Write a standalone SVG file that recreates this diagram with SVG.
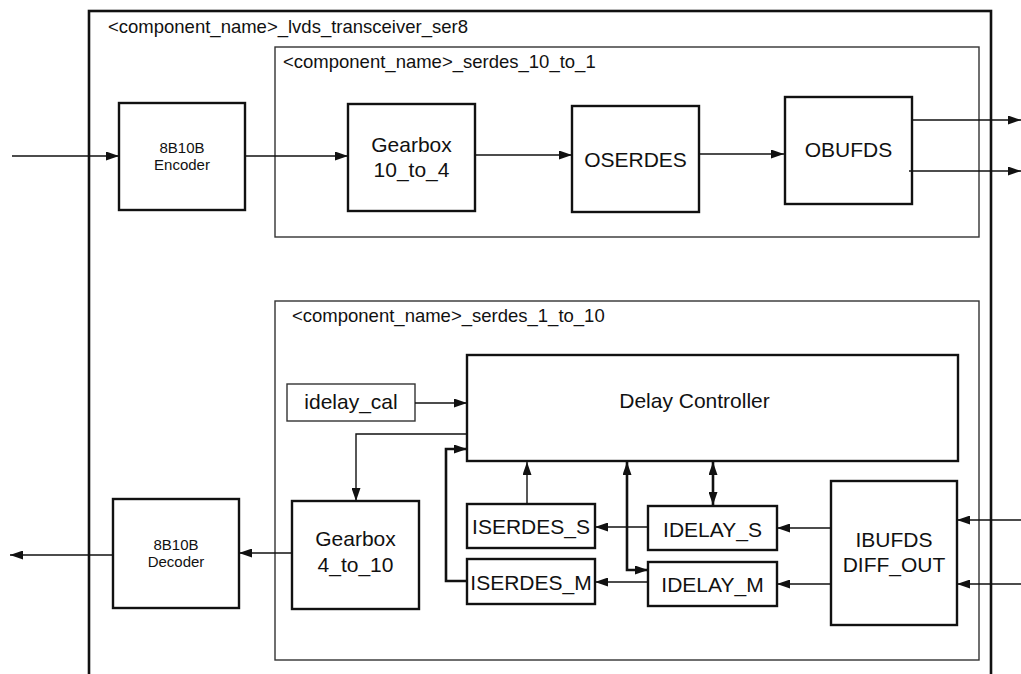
<svg xmlns="http://www.w3.org/2000/svg" width="1021" height="674" viewBox="0 0 1021 674">
<style>
text{font-family:"Liberation Sans",Arial,sans-serif;fill:#111;}
.big{font-size:21px;text-anchor:middle;}
.small{font-size:15px;text-anchor:middle;}
.title{font-size:18.5px;}
.blk{fill:#fff;stroke:#111;stroke-width:2.4;}
.thinbox{fill:none;stroke:#333;stroke-width:1.4;}
.c{fill:none;stroke:#111;stroke-width:1.4;}
.ct{fill:none;stroke:#111;stroke-width:2.6;}
</style>
<defs>
<marker id="ah" markerUnits="userSpaceOnUse" markerWidth="13" markerHeight="9" refX="13" refY="4.5" orient="auto-start-reverse" viewBox="0 0 13 9">
<path d="M0,0 L13,4.5 L0,9 z" fill="#111"/>
</marker>
</defs>
<rect width="1021" height="674" fill="#fff"/>

<g id="outer">
<rect x="89" y="11" width="902" height="700" fill="none" stroke="#111" stroke-width="2.6"/>
<text class="title" x="108" y="33">&lt;component_name&gt;_lvds_transceiver_ser8</text>
</g>
<g id="serdes_10_to_1">
<rect class="thinbox" x="275" y="47" width="704" height="190"/>
<text class="title" x="283" y="68">&lt;component_name&gt;_serdes_10_to_1</text>
</g>
<g id="serdes_1_to_10">
<rect class="thinbox" x="275" y="301" width="704" height="359"/>
<text class="title" x="292" y="322">&lt;component_name&gt;_serdes_1_to_10</text>
</g>

<g id="encoder">
<rect class="blk" x="119" y="103" width="126" height="107"/>
<text class="small" x="182" y="153">8B10B</text>
<text class="small" x="182" y="170">Encoder</text>
</g>
<g id="gearbox_10_to_4">
<rect class="blk" x="348" y="104" width="127" height="107"/>
<text class="big" x="411.5" y="152">Gearbox</text>
<text class="big" x="411.5" y="177">10_to_4</text>
</g>
<g id="oserdes">
<rect class="blk" x="572" y="106" width="127" height="106"/>
<text class="big" x="635.5" y="167">OSERDES</text>
</g>
<g id="obufds">
<rect class="blk" x="785" y="97" width="127" height="107"/>
<text class="big" x="848.5" y="157">OBUFDS</text>
</g>

<g id="idelay_cal">
<rect class="thinbox" x="287" y="384" width="128" height="37"/>
<text class="big" x="351" y="409">idelay_cal</text>
</g>
<g id="delay_controller">
<rect class="blk" x="467" y="355" width="491" height="106"/>
<text class="big" x="694.5" y="408">Delay Controller</text>
</g>
<g id="iserdes_s">
<rect class="blk" x="467" y="504" width="128" height="44"/>
<text class="big" x="531" y="534">ISERDES_S</text>
</g>
<g id="iserdes_m">
<rect class="blk" x="467" y="559" width="128" height="45"/>
<text class="big" x="531" y="590">ISERDES_M</text>
</g>
<g id="idelay_s">
<rect class="blk" x="648" y="506" width="129" height="44"/>
<text class="big" x="712.5" y="537">IDELAY_S</text>
</g>
<g id="idelay_m">
<rect class="blk" x="648" y="562" width="129" height="44"/>
<text class="big" x="712.5" y="592">IDELAY_M</text>
</g>
<g id="ibufds">
<rect class="blk" x="831" y="481" width="126" height="144"/>
<text class="big" x="894" y="547">IBUFDS</text>
<text class="big" x="894" y="572">DIFF_OUT</text>
</g>
<g id="gearbox_4_to_10">
<rect class="blk" x="292" y="501" width="127" height="108"/>
<text class="big" x="355.5" y="546">Gearbox</text>
<text class="big" x="355.5" y="572">4_to_10</text>
</g>
<g id="decoder">
<rect class="blk" x="113" y="499" width="126" height="109"/>
<text class="small" x="176" y="550">8B10B</text>
<text class="small" x="176" y="567">Decoder</text>
</g>

<g id="connectors">
<path class="c" d="M12,156 L119,156" marker-end="url(#ah)"/>
<path class="c" d="M245,156 L348,156" marker-end="url(#ah)"/>
<path class="c" d="M475,155 L572,155" marker-end="url(#ah)"/>
<path class="c" d="M699,154 L784,154" marker-end="url(#ah)"/>
<path class="c" d="M912,120 L1021,120" marker-end="url(#ah)"/>
<path class="c" d="M909,171 L1021,171" marker-end="url(#ah)"/>
<path class="c" d="M415,403 L467,403" marker-end="url(#ah)"/>
<path class="c" d="M467,434 L356,434 L356,501" marker-end="url(#ah)"/>
<path class="ct" d="M467,581 L446,581 L446,449 L467,449" marker-end="url(#ah)"/>
<path class="c" d="M527,504 L527,462" marker-end="url(#ah)"/>
<path class="ct" d="M627,462 L627,570 L648,570" marker-start="url(#ah)" marker-end="url(#ah)"/>
<path class="ct" d="M713,462 L713,505" marker-start="url(#ah)" marker-end="url(#ah)"/>
<path class="c" d="M648,527 L595,527" marker-end="url(#ah)"/>
<path class="c" d="M648,582 L595,582" marker-end="url(#ah)"/>
<path class="c" d="M831,528 L777,528" marker-end="url(#ah)"/>
<path class="c" d="M831,584 L777,584" marker-end="url(#ah)"/>
<path class="c" d="M1021,520 L957,520" marker-end="url(#ah)"/>
<path class="c" d="M1021,584 L957,584" marker-end="url(#ah)"/>
<path class="c" d="M292,553 L239,553" marker-end="url(#ah)"/>
<path class="c" d="M113,555 L10,555" marker-end="url(#ah)"/>
</g>
</svg>
